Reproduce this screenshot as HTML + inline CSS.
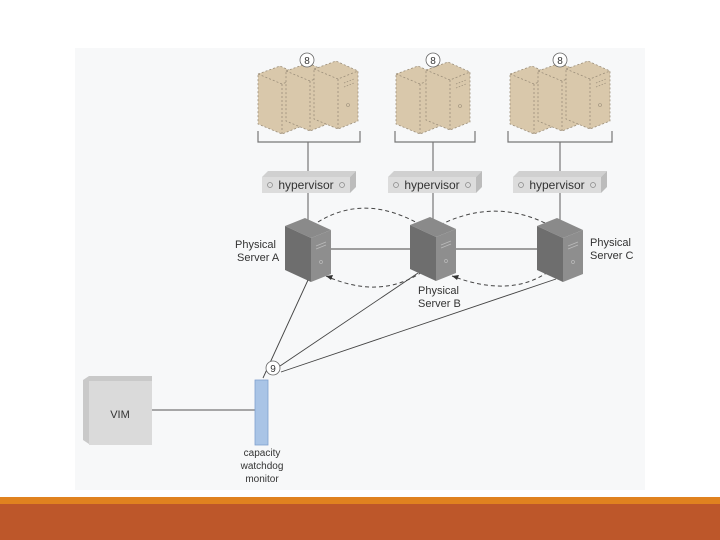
<!DOCTYPE html>
<html><head><style>
html,body{margin:0;padding:0;width:720px;height:540px;background:#fff;overflow:hidden}
svg{display:block}
text{font-family:"Liberation Sans",sans-serif;fill:#333}
</style></head><body>
<svg width="720" height="540" viewBox="0 0 720 540">
<defs>
<g id="vm">
<polygon points="0,12 22,4 44,14 44,64 24,72 0,62" fill="#d9c8ab" stroke="#9b8e7a" stroke-dasharray="2,2" stroke-width="0.8"/>
<polyline points="0,12 24,22 44,14" fill="none" stroke="#9b8e7a" stroke-dasharray="2,2" stroke-width="0.8"/>
<line x1="24" y1="22" x2="24" y2="72" stroke="#9b8e7a" stroke-dasharray="2,2" stroke-width="0.8"/>
<line x1="30" y1="26" x2="40" y2="22" stroke="#9b8e7a" stroke-dasharray="1.5,1.5" stroke-width="0.7"/>
<line x1="30" y1="30" x2="40" y2="26" stroke="#9b8e7a" stroke-dasharray="1.5,1.5" stroke-width="0.7"/>
<circle cx="34" cy="48" r="1.5" fill="none" stroke="#9b8e7a" stroke-width="0.6"/>
</g>
<g id="srv">
<polygon points="0,8 20,0 46,12 26,20" fill="#8a8a8a"/>
<polygon points="0,8 26,20 26,64 0,52" fill="#6e6e6e"/>
<polygon points="26,20 46,12 46,56 26,64" fill="#8e8e8e"/>
<line x1="31" y1="28" x2="41" y2="24" stroke="#bbb" stroke-width="0.8"/>
<line x1="31" y1="31" x2="41" y2="27" stroke="#bbb" stroke-width="0.8"/>
<circle cx="36" cy="44" r="1.5" fill="none" stroke="#bbb" stroke-width="0.7"/>
</g>
<g id="hv">
<polygon points="0,6 6,0 94,0 88,6" fill="#d0d0d0"/>
<rect x="0" y="6" width="88" height="16" fill="#dcdcdc"/>
<polygon points="88,6 94,0 94,16 88,22" fill="#bcbcbc"/>
<circle cx="8" cy="14" r="2.5" fill="none" stroke="#888" stroke-width="0.7"/>
<circle cx="80" cy="14" r="2.5" fill="none" stroke="#888" stroke-width="0.7"/>
<text x="44" y="18" font-size="12" text-anchor="middle" fill="#111">hypervisor</text>
</g>
</defs>
<rect x="75" y="48" width="570" height="442" fill="#f7f8f9"/>
<rect x="0" y="497" width="720" height="7" fill="#e0821f"/>
<rect x="0" y="504" width="720" height="36" fill="#bd572a"/>

<g transform="translate(258,62)"><use href="#vm"/><use href="#vm" x="28" y="-3"/><use href="#vm" x="56" y="-5"/></g>
<g transform="translate(396,62)"><use href="#vm"/><use href="#vm" x="30" y="-4"/></g>
<g transform="translate(510,62)"><use href="#vm"/><use href="#vm" x="28" y="-3"/><use href="#vm" x="56" y="-5"/></g>

<g fill="#fff" stroke="#666" stroke-width="0.8">
<circle cx="307" cy="60" r="7"/><circle cx="433" cy="60" r="7"/><circle cx="560" cy="60" r="7"/>
</g>
<g font-size="10" text-anchor="middle"><text x="307" y="64">8</text><text x="433" y="64">8</text><text x="560" y="64">8</text></g>

<g fill="none" stroke="#777" stroke-width="1.2">
<polyline points="258,131 258,142 360,142 360,131"/><line x1="308" y1="142" x2="308" y2="232"/>
<polyline points="395,131 395,142 475,142 475,131"/><line x1="433" y1="142" x2="433" y2="232"/>
<polyline points="508,131 508,142 612,142 612,131"/><line x1="560" y1="142" x2="560" y2="232"/>
</g>
<use href="#hv" x="262" y="171"/><use href="#hv" x="388" y="171"/><use href="#hv" x="513" y="171"/>

<line x1="320" y1="249" x2="545" y2="249" stroke="#444" stroke-width="1"/>
<g fill="none" stroke="#444" stroke-width="1" stroke-dasharray="4,3">
<path d="M318,222 Q370,190 432,232"/><path d="M440,225 Q500,195 558,230"/>
<path d="M422,272 Q380,300 326,276"/><path d="M548,272 Q510,298 452,276"/>
</g>
<g fill="#333"><polygon points="432,232 425,229 429,226"/><polygon points="558,230 551,228 555,224"/><polygon points="326,276 333,275 331,280"/><polygon points="452,276 459,275 457,280"/></g>

<use href="#srv" x="285" y="218"/><use href="#srv" x="410" y="217"/><use href="#srv" x="537" y="218"/>

<g font-size="11" fill="#222">
<text x="235" y="248">Physical</text><text x="237" y="261">Server A</text>
<text x="418" y="294">Physical</text><text x="418" y="307">Server B</text>
<text x="590" y="246">Physical</text><text x="590" y="259">Server C</text>
</g>

<g stroke="#444" stroke-width="0.9" fill="none">
<line x1="308" y1="280" x2="263" y2="378"/>
<line x1="418" y1="273" x2="280" y2="366"/>
<line x1="556" y1="279" x2="281" y2="372"/>
</g>
<circle cx="273" cy="368" r="7" fill="#fff" stroke="#666" stroke-width="0.8"/>
<text x="273" y="372" font-size="10" text-anchor="middle">9</text>

<polygon points="83,380 89,376 152,376 152,444 89,444 83,440" fill="#c9c9c9"/>
<rect x="89" y="381" width="63" height="64" fill="#dadada"/>
<text x="120" y="418" font-size="11" text-anchor="middle">VIM</text>
<line x1="152" y1="410" x2="257" y2="410" stroke="#555" stroke-width="1"/>
<rect x="255" y="380" width="13" height="65" fill="#a9c4e6" stroke="#7fa0cf" stroke-width="0.8"/>
<g font-size="10" text-anchor="middle" fill="#333">
<text x="262" y="456">capacity</text><text x="262" y="469">watchdog</text><text x="262" y="482">monitor</text>
</g>
</svg>
</body></html>
